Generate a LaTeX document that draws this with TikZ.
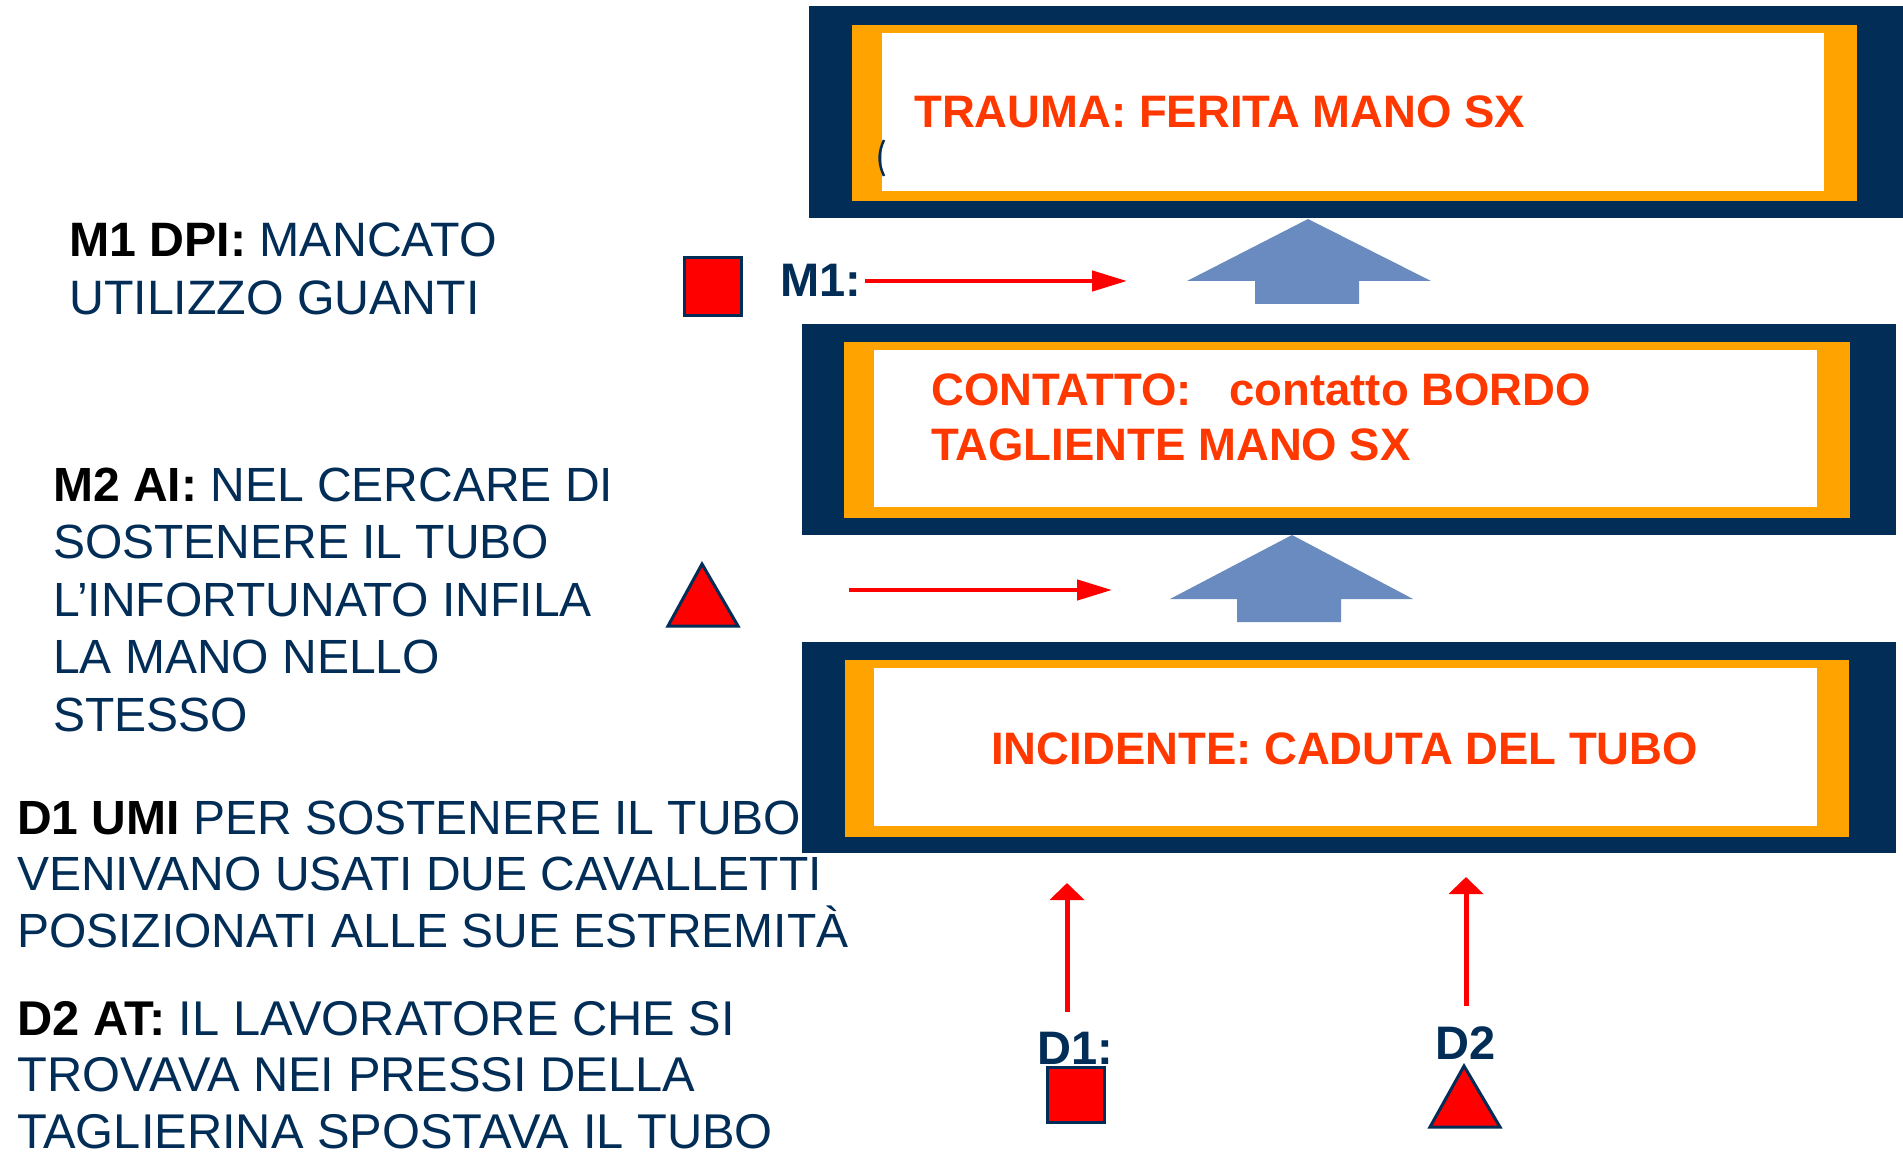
\documentclass[tikz,border=0pt]{standalone}
\usepackage{fontspec}
\setmainfont{Liberation Sans}
\usetikzlibrary{arrows.meta}
\definecolor{navy}{RGB}{2,45,87}
\definecolor{orng}{RGB}{255,163,0}
\definecolor{tred}{RGB}{255,56,0}
\definecolor{blu}{RGB}{106,139,191}
\definecolor{redf}{RGB}{255,0,0}
\begin{document}
\begin{tikzpicture}[x=1pt,y=-1pt,
  lbl/.style={inner sep=0pt, anchor=base west, align=left, text=navy, font=\fontsize{48}{57.5}\selectfont},
  btxt/.style={inner sep=0pt, anchor=base west, align=left, text=tred, font=\bfseries\fontsize{45.5}{55}\selectfont},
  tag/.style={inner sep=0pt, anchor=base west, text=navy, font=\bfseries\fontsize{47}{56}\selectfont},
  outerbox/.style={fill=navy, inner sep=0pt, anchor=north west},
  harrow/.style={draw=redf, line width=4.5pt, -{Triangle[length=35pt,width=20pt]}},
  varrow/.style={draw=redf, line width=5pt, -{Triangle[length=17pt,width=34pt]}},
  redsq/.style={draw=navy, line width=3pt, fill=redf, inner sep=0pt, minimum width=57pt, minimum height=57pt},
  redtri/.style={draw=navy, line width=3pt, fill=redf},
  blockarrow/.style={fill=blu}
]
\useasboundingbox (0,0) rectangle (1903,1155);
\fill[white] (0,0) rectangle (1903,1155);

% ---- top box (trauma)
\node[outerbox, minimum width=1094pt, minimum height=212pt] (trauma) at (809,6) {};
\fill[orng] (852,25) rectangle (1857,201);
\fill[white] (882,33) rectangle (1824,191);
\draw[navy, line width=2.5pt] (884,140) to[bend right=25] (884,176);
\node[btxt] (traumatxt) at (914,128) {TRAUMA: FERITA MANO SX};

% ---- middle box (contatto)
\node[outerbox, minimum width=1094pt, minimum height=211pt] (contatto) at (802,324) {};
\fill[orng] (844,342) rectangle (1850,518);
\fill[white] (874,350) rectangle (1817,507);
\node[btxt] (contattotxt) at (931,460) {CONTATTO:\ \ \ contatto BORDO\\TAGLIENTE MANO SX};

% ---- bottom box (incidente)
\node[outerbox, minimum width=1094pt, minimum height=211pt] (incidente) at (802,642) {};
\fill[orng] (845,660) rectangle (1849,837);
\fill[white] (874,668) rectangle (1817,826);
\node[btxt] (incidentetxt) at (991,764) {INCIDENTE: CADUTA DEL TUBO};

% ---- block arrows
\fill[blockarrow] (1308,219) -- (1431,281) -- (1359,281) -- (1359,304) -- (1255,304) -- (1255,281) -- (1187,281) -- cycle;
\fill[blockarrow] (1292,535) -- (1413,599) -- (1341,599) -- (1341,622) -- (1237,622) -- (1237,599) -- (1170,599) -- cycle;

% ---- M1 marker
\node[redsq, minimum height=58pt] (sqm1) at (713,286.5) {};
\node[tag] (m1lab) at (780,297) {M1:};
\coordinate (m1s) at (865,281);
\coordinate (m1e) at (1127,281);
\draw[harrow] (m1s) -- (m1e);

% ---- M2 marker
\draw[redtri] (702,564) -- (738,626) -- (668,626) -- cycle;
\coordinate (m2s) at (849,590);
\coordinate (m2e) at (1112,590);
\draw[harrow] (m2s) -- (m2e);

% ---- D1 marker
\node[tag] (d1lab) at (1037,1064) {D1:};
\node[redsq, minimum height=55pt] (sqd1) at (1076,1095) {};
\coordinate (d1s) at (1067,1012);
\coordinate (d1e) at (1067,883);
\draw[varrow] (d1s) -- (d1e);

% ---- D2 marker
\node[tag] (d2lab) at (1435,1059) {D2};
\draw[redtri] (1464,1066) -- (1500,1127) -- (1430,1127) -- cycle;
\coordinate (d2s) at (1466,1006);
\coordinate (d2e) at (1466,877);
\draw[varrow] (d2s) -- (d2e);

% ---- left descriptions (anchor = baseline of last line)
\node[lbl, font=\fontsize{48.3}{57.5}\selectfont] (m1txt) at (69,314.5) {\textcolor{black}{\bfseries M1 DPI:} MANCATO\\UTILIZZO GUANTI};
\node[lbl] (m2txt) at (53,731) {\textcolor{black}{\bfseries M2 AI:} NEL CERCARE DI\\SOSTENERE IL TUBO\\L’INFORTUNATO INFILA\\LA MANO NELLO\\STESSO};
\node[lbl, font=\fontsize{48}{56.5}\selectfont] (d1txt) at (17,947) {\textcolor{black}{\bfseries D1 UMI} PER SOSTENERE IL TUBO\\VENIVANO USATI DUE CAVALLETTI\\POSIZIONATI ALLE SUE ESTREMITÀ};
\node[lbl, font=\fontsize{48.8}{56.5}\selectfont] (d2txt) at (17,1148) {\textcolor{black}{\bfseries D2 AT:} IL LAVORATORE CHE SI\\TROVAVA NEI PRESSI DELLA\\TAGLIERINA SPOSTAVA IL TUBO};
\end{tikzpicture}
\end{document}
